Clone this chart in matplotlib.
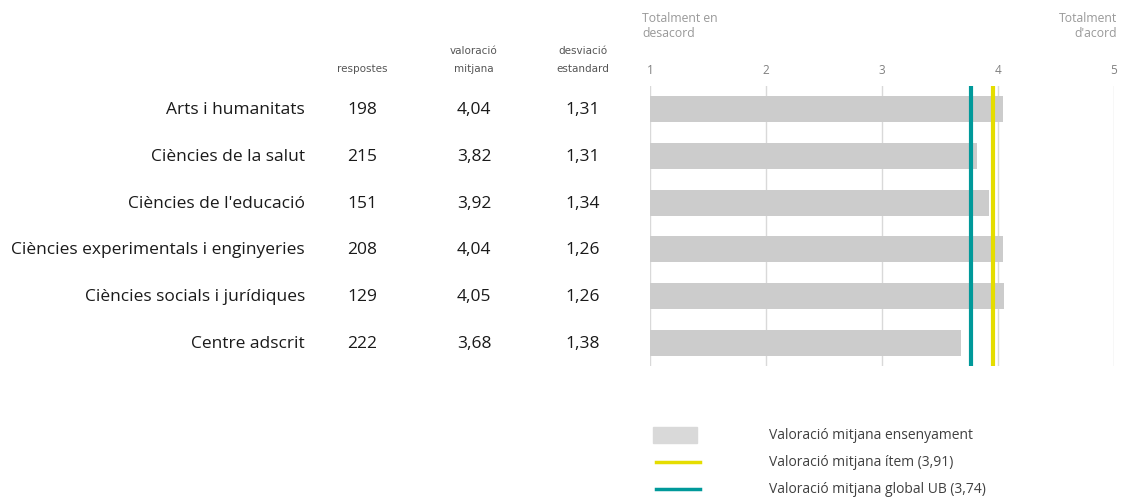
import numpy as np
import matplotlib.pyplot as plt
from matplotlib.transforms import blended_transform_factory
from matplotlib.patches import Rectangle
from matplotlib.lines import Line2D

# data
categories = ["Arts i humanitats", "Ciències de la salut", "Ciències de l'educació",
              "Ciències experimentals i enginyeries", "Ciències socials i jurídiques",
              "Centre adscrit"]
respostes = [198, 215, 151, 208, 129, 222]
mitjana = [4.04, 3.82, 3.92, 4.04, 4.05, 3.68]
desviacio = [1.31, 1.31, 1.34, 1.26, 1.26, 1.38]
item_line = 3.96      # position as drawn (legend says 3,91)
global_line = 3.77    # position as drawn (legend says 3,74)
item_label = "3,91"
global_label = "3,74"
ticks = [1, 2, 3, 4, 5]

bar_col = "#cccccc"
yellow = "#e5dd00"
teal = "#00999a"
grid_col = "#d9d9d9"

W, H = 1130, 502
fig = plt.figure(figsize=(W / 100, H / 100), dpi=100)
ax = fig.add_axes([650 / W, 1 - 367 / H, 464 / W, 280 / H])

y = np.arange(len(categories))
for t in ticks:
    ax.axvline(t, color=grid_col, lw=1, zorder=0)
ax.barh(y, np.array(mitjana) - 1, left=1, height=0.56, color=bar_col, zorder=1)
ax.axvline(global_line, color=teal, lw=3, zorder=3)
ax.axvline(item_line, color=yellow, lw=3, zorder=3)

ax.set_xlim(1, 5)
ax.set_ylim(len(categories) - 0.5, -0.5)
ax.axis("off")

# tick labels on top
tr_tick = blended_transform_factory(ax.transData, fig.transFigure)
for t in ticks:
    ax.text(t, 1 - 70 / H, str(t), transform=tr_tick, ha="center", va="center",
            fontsize=8.5, color="#808080", family="Open Sans")
fig.text(642 / W, 1 - 26 / H, "Totalment en\ndesacord", ha="left", va="center",
         fontsize=8.8, color="#999999", family="Open Sans", linespacing=1.25)
fig.text(1117 / W, 1 - 26 / H, "Totalment\nd'acord", ha="right", va="center",
         fontsize=8.8, color="#999999", family="Open Sans", linespacing=1.25)

# table
tr = blended_transform_factory(fig.transFigure, ax.transData)
col_x = [362 / W, 474 / W, 583 / W]
for i, cat in enumerate(categories):
    ax.text(305 / W, i, cat, transform=tr, ha="right", va="center",
            fontsize=12.5, color="#1a1a1a", family="Open Sans")
    vals = [str(respostes[i]), f"{mitjana[i]:.2f}".replace(".", ","),
            f"{desviacio[i]:.2f}".replace(".", ",")]
    for cx, v in zip(col_x, vals):
        ax.text(cx, i, v, transform=tr, ha="center", va="center",
                fontsize=12.5, color="#1a1a1a", family="Open Sans")

headers = ["respostes", "valoració\nmitjana", "desviació\nestandard"]
for cx, h in zip(col_x, headers):
    fig.text(cx, 1 - 72 / H, h, ha="center", va="baseline", fontsize=7.5,
             color="#555555", family="DejaVu Sans", linespacing=2.0)

# legend
fig.patches.append(Rectangle((653 / W, 1 - 444 / H), 44 / W, 16 / H,
                             transform=fig.transFigure, color="#d9d9d9"))
fig.lines.append(Line2D([656 / W, 700 / W], [1 - 463 / H] * 2,
                        transform=fig.transFigure, color=yellow, lw=2.5))
fig.lines.append(Line2D([656 / W, 700 / W], [1 - 490 / H] * 2,
                        transform=fig.transFigure, color=teal, lw=2.5))
leg_txt = ["Valoració mitjana ensenyament",
           f"Valoració mitjana ítem ({item_label})",
           f"Valoració mitjana global UB ({global_label})"]
for yy, txt in zip([436, 463, 490], leg_txt):
    fig.text(769 / W, 1 - yy / H, txt, ha="left", va="center", fontsize=10,
             color="#404040", family="Open Sans")

fig.savefig("out.png", dpi=100)
